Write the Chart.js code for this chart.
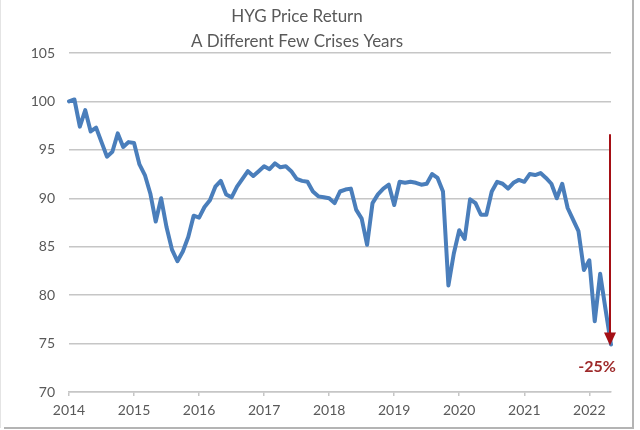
<!DOCTYPE html>
<html>
<head>
<meta charset="utf-8">
<script src="https://cdn.jsdelivr.net/npm/chart.js@4.4.1/dist/chart.umd.min.js"></script>
<style>
  html, body { margin: 0; padding: 0; background: #fff; }
  canvas { display: block; }
</style>
</head>
<body>
<canvas id="chart" width="640" height="430"></canvas>
<script>
// monthly points, Jan 2014 .. May 2022
const years = [2014, 2015, 2016, 2017, 2018, 2019, 2020, 2021, 2022];
const lastYearMonths = 5;

const hygPrice = [
  100.0, 100.2, 97.4, 99.1, 96.9, 97.3, 95.8, 94.3, 94.8, 96.7, 95.3, 95.8,
  95.7, 93.5, 92.4, 90.5, 87.6, 90.0, 87.0, 84.7, 83.5, 84.5, 86.0, 88.2,
  88.0, 89.1, 89.8, 91.2, 91.8, 90.4, 90.1, 91.2, 92.0, 92.8, 92.3, 92.8,
  93.3, 93.0, 93.6, 93.2, 93.3, 92.8, 92.0, 91.8, 91.7, 90.7, 90.2, 90.1,
  90.0, 89.5, 90.7, 90.9, 91.0, 88.8, 87.9, 85.2, 89.5, 90.4, 91.0, 91.4,
  89.3, 91.7, 91.6, 91.7, 91.6, 91.4, 91.5, 92.5, 92.1, 90.7, 81.0, 84.3,
  86.7, 85.8, 89.9, 89.5, 88.3, 88.3, 90.7, 91.7, 91.5, 91.0, 91.6, 91.9,
  91.7, 92.5, 92.4, 92.6, 92.1, 91.5, 90.0, 91.5, 89.0, 87.8, 86.6, 82.6,
  83.6, 77.3, 82.2, 78.5, 74.9
];

const titleLines = ["HYG Price Return", "A Different Few Crises Years"];
const drawdownLabel = "-25%";
const arrowFrom = 96.6;
const arrowTo = 74.9;

const labels = [];
years.forEach((y, i) => {
  const n = i === years.length - 1 ? lastYearMonths : 12;
  for (let m = 0; m < n; m++) labels.push(m === 0 ? String(y) : "");
});

const textColor = "#595959";
const gridColor = "#c6c6c6";
const arrowColor = "#a50f15";

const decorations = {
  id: "decorations",
  beforeDraw(chart) {
    const ctx = chart.ctx;
    ctx.save();
    ctx.fillStyle = "#fff";
    ctx.fillRect(0, 0, chart.width, chart.height);
    // frame shadow on right and bottom
    ctx.strokeStyle = "#b4b4b4";
    ctx.lineWidth = 2;
    ctx.beginPath();
    ctx.moveTo(633, 0);
    ctx.lineTo(633, 428);
    ctx.lineTo(4, 428);
    ctx.stroke();
    ctx.strokeStyle = "#e4e4e4";
    ctx.lineWidth = 1;
    ctx.beginPath();
    ctx.moveTo(0.5, 0);
    ctx.lineTo(0.5, 428);
    ctx.stroke();
    ctx.restore();
  },
  afterDraw(chart) {
    const ctx = chart.ctx;
    const xs = chart.scales.x;
    const ys = chart.scales.y;
    ctx.save();
    // title
    ctx.fillStyle = textColor;
    ctx.font = "17px Lato, 'Open Sans', sans-serif";
    ctx.textAlign = "center";
    ctx.textBaseline = "middle";
    ctx.fillText(titleLines[0], 297, 17);
    ctx.fillText(titleLines[1], 297, 42);

    // drawdown arrow
    const ax = xs.getPixelForValue(hygPrice.length - 1) - 1;
    const y0 = ys.getPixelForValue(arrowFrom);
    const y1 = ys.getPixelForValue(arrowTo);
    ctx.strokeStyle = arrowColor;
    ctx.fillStyle = arrowColor;
    ctx.lineWidth = 2;
    ctx.beginPath();
    ctx.moveTo(ax, y0);
    ctx.lineTo(ax, y1 - 10);
    ctx.stroke();
    ctx.beginPath();
    ctx.moveTo(ax - 6, y1 - 12);
    ctx.lineTo(ax + 6, y1 - 12);
    ctx.lineTo(ax, y1 + 1);
    ctx.closePath();
    ctx.fill();

    ctx.fillStyle = "#9e2a2b";
    ctx.font = "bold 16px Lato, 'Open Sans', sans-serif";
    ctx.fillText(drawdownLabel, ax - 13, y1 + 22);
    ctx.restore();
  }
};

new Chart(document.getElementById("chart"), {
  type: "line",
  data: {
    labels: labels,
    datasets: [{
      label: "HYG",
      data: hygPrice,
      borderColor: "#4a7ebb",
      borderWidth: 4,
      pointRadius: 0,
      tension: 0,
      fill: false,
      borderJoinStyle: "round",
      borderCapStyle: "round"
    }]
  },
  options: {
    responsive: false,
    animation: false,
    devicePixelRatio: 1,
    layout: { padding: { top: 53, right: 29, left: 0, bottom: 0 } },
    plugins: {
      legend: { display: false },
      title: { display: false },
      tooltip: { enabled: false }
    },
    scales: {
      x: {
        type: "category",
        offset: false,
        afterFit: (s) => { s.height = 38; },
        border: { color: gridColor, width: 1.5 },
        grid: {
          drawOnChartArea: false,
          drawTicks: true,
          tickLength: 4,
          color: gridColor,
          lineWidth: 1.5
        },
        ticks: {
          autoSkip: false,
          maxRotation: 0,
          padding: 6,
          color: textColor,
          font: { family: "Lato, 'Open Sans', sans-serif", size: 14 },
          callback: function (value, index) {
            return labels[index] === "" ? null : labels[index];
          }
        }
      },
      y: {
        min: 70,
        max: 105,
        afterFit: (s) => { s.width = 69; },
        border: { display: false },
        grid: {
          color: gridColor,
          lineWidth: 1.5,
          drawTicks: false
        },
        ticks: {
          stepSize: 5,
          padding: 14,
          color: textColor,
          font: { family: "Lato, 'Open Sans', sans-serif", size: 14 }
        }
      }
    }
  },
  plugins: [decorations]
});
</script>
</body>
</html>
